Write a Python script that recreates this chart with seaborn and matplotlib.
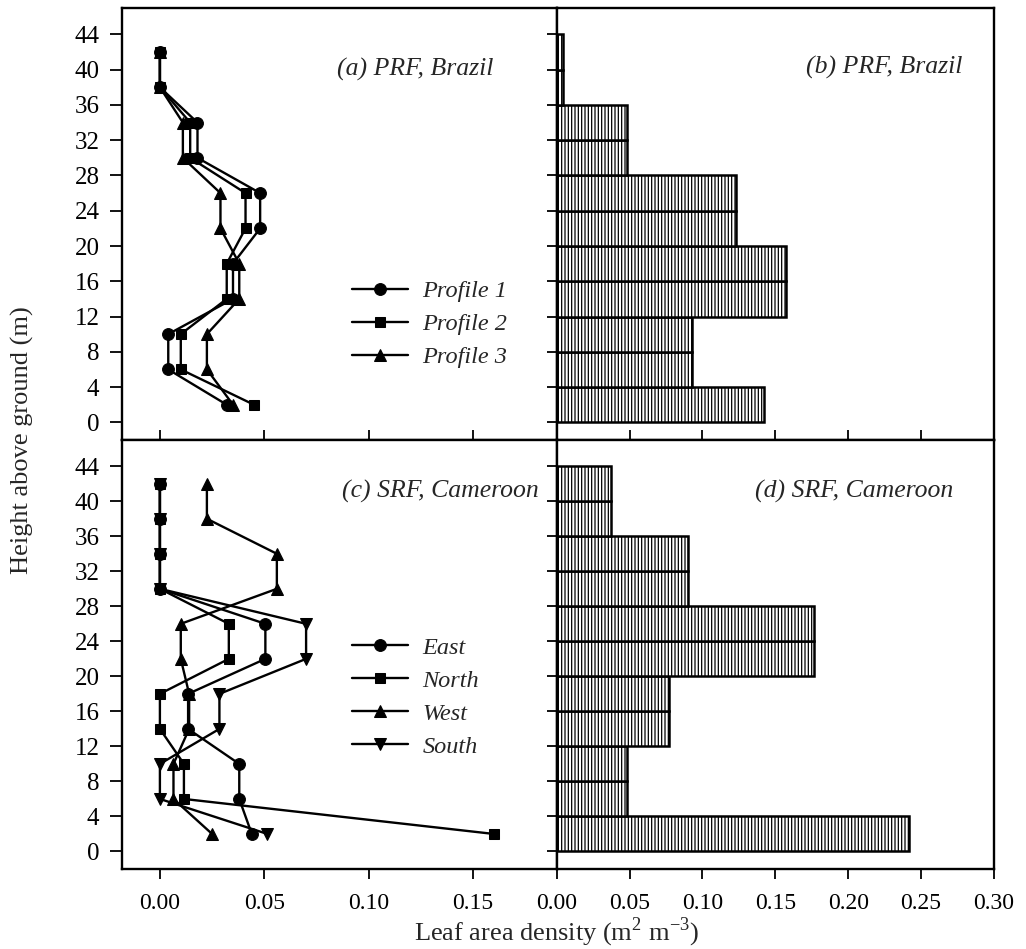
import numpy as np
import matplotlib
matplotlib.use("Agg")
import matplotlib.pyplot as plt
import seaborn as sns

# ---- data -------------------------------------------------------------
heights = [42, 38, 34, 30, 26, 22, 18, 14, 10, 6, 2]

# (a) PRF, Brazil : leaf area density profiles
prf_profile1 = [0.000, 0.000, 0.018, 0.018, 0.048, 0.048, 0.035, 0.035, 0.004, 0.004, 0.032]
prf_profile2 = [0.000, 0.000, 0.0145, 0.0145, 0.041, 0.041, 0.032, 0.032, 0.010, 0.010, 0.045]
prf_profile3 = [0.000, 0.000, 0.011, 0.011, 0.029, 0.029, 0.038, 0.038, 0.0225, 0.0225, 0.035]

# (c) SRF, Cameroon : leaf area density by direction
srf_east = [0.000, 0.000, 0.000, 0.000, 0.0505, 0.0505, 0.0135, 0.0135, 0.038, 0.038, 0.044]
srf_north = [0.000, 0.000, 0.000, 0.000, 0.033, 0.033, 0.000, 0.000, 0.0115, 0.0115, 0.160]
srf_west = [0.0225, 0.0225, 0.056, 0.056, 0.010, 0.010, 0.014, 0.014, 0.0065, 0.0065, 0.025]
srf_south = [0.000, 0.000, 0.000, 0.000, 0.070, 0.070, 0.0285, 0.0285, 0.000, 0.000, 0.0515]

# (b), (d) mean leaf area density in 4 m layers, from 0-4 m up to 40-44 m
layer_edges = [0, 4, 8, 12, 16, 20, 24, 28, 32, 36, 40, 44]
prf_layers = [0.142, 0.093, 0.093, 0.157, 0.157, 0.123, 0.123, 0.048, 0.048, 0.004, 0.004]
srf_layers = [0.2415, 0.048, 0.048, 0.077, 0.077, 0.1765, 0.1765, 0.090, 0.090, 0.0375, 0.0375]

y_ticks = [0, 4, 8, 12, 16, 20, 24, 28, 32, 36, 40, 44]
left_xticks = [0.00, 0.05, 0.10, 0.15]
right_xticks = [0.00, 0.05, 0.10, 0.15, 0.20, 0.25, 0.30]

# ---- style ------------------------------------------------------------
sns.set_theme(style="white")
plt.rcParams["font.family"] = ["Liberation Serif", "DejaVu Serif"]
plt.rcParams["mathtext.fontset"] = "custom"
plt.rcParams["mathtext.rm"] = "Liberation Serif"
plt.rcParams["hatch.linewidth"] = 0.9
plt.rcParams["axes.linewidth"] = 1.7
plt.rcParams["xtick.major.width"] = 1.3
plt.rcParams["ytick.major.width"] = 1.3

fig = plt.figure(figsize=(10.26, 9.49), dpi=100)
ax_a = fig.add_axes([0.1186, 0.5364, 0.4240, 0.4552])
ax_b = fig.add_axes([0.5426, 0.5364, 0.4262, 0.4552])
ax_c = fig.add_axes([0.1186, 0.0843, 0.4240, 0.4521])
ax_d = fig.add_axes([0.5426, 0.0843, 0.4262, 0.4521])

XTICK_FS = 17
YTICK_FS = 18
LABEL_FS = 19
ITALIC_FS = 17.5

line_kw = dict(color="black", linewidth=1.7, sort=False, estimator=None,
               markeredgecolor="black", markerfacecolor="black")


def profile(ax, values, marker, size, label):
    sns.lineplot(x=values, y=heights, marker=marker, markersize=size,
                 label=label, ax=ax, **line_kw)


profile(ax_a, prf_profile1, "o", 8.5, "Profile 1")
profile(ax_a, prf_profile2, "s", 7.5, "Profile 2")
profile(ax_a, prf_profile3, "^", 8.5, "Profile 3")

profile(ax_c, srf_east, "o", 8.5, "East")
profile(ax_c, srf_north, "s", 7.5, "North")
profile(ax_c, srf_west, "^", 8.5, "West")
profile(ax_c, srf_south, "v", 8.5, "South")

layer_mid = [(a + b) / 2 for a, b in zip(layer_edges[:-1], layer_edges[1:])]
bar_kw = dict(bins=layer_edges, color="white", edgecolor="black", linewidth=1.8,
              hatch="|||||", alpha=1.0, fill=True)
sns.histplot(y=layer_mid, weights=prf_layers, ax=ax_b, **bar_kw)
sns.histplot(y=layer_mid, weights=srf_layers, ax=ax_d, **bar_kw)

# ---- axes -------------------------------------------------------------
for ax in (ax_a, ax_c):
    ax.set_xlim(-0.0183, 0.19)
    ax.set_xticks(left_xticks)
for ax in (ax_b, ax_d):
    ax.set_xlim(0.0, 0.30)
    ax.set_xticks(right_xticks)

for ax in (ax_a, ax_b, ax_c, ax_d):
    ax.set_ylim(-2.0, 47.0)
    ax.set_yticks(y_ticks)
    ax.set_xlabel("")
    ax.set_ylabel("")
    for s in ax.spines.values():
        s.set_visible(True)
        s.set_color("black")
    ax.tick_params(axis="x", which="major", length=7, color="black",
                   labelsize=XTICK_FS, labelcolor="black", pad=10)
    ax.tick_params(axis="y", which="major", length=9, color="black",
                   labelsize=YTICK_FS, labelcolor="black", pad=7)
    ax.grid(False)

# left panels: labelled height axis
for ax in (ax_a, ax_c):
    ax.tick_params(axis="y", direction="out", left=True, right=False, labelleft=True)
    ax.set_yticklabels([str(v) for v in y_ticks])

# right panels: unlabelled height ticks
for ax in (ax_b, ax_d):
    ax.tick_params(axis="y", direction="out", left=True, right=False,
                   labelleft=False, length=7)

# upper panels: inward bottom ticks, no labels
for ax in (ax_a, ax_b):
    ax.tick_params(axis="x", direction="in", bottom=True, top=False, labelbottom=False)

# lower panels: labelled density axis
for ax in (ax_c, ax_d):
    ax.tick_params(axis="x", direction="out", bottom=True, top=False, labelbottom=True)
    ax.set_xticklabels([f"{v:.2f}" for v in ax.get_xticks()])

# ---- panel titles -----------------------------------------------------
title_kw = dict(fontsize=18.5, style="italic", ha="left", va="center")
ax_a.text(0.494, 0.857, "(a) PRF, Brazil", transform=ax_a.transAxes, **title_kw)
ax_b.text(0.570, 0.862, "(b) PRF, Brazil", transform=ax_b.transAxes, **title_kw)
ax_c.text(0.5057, 0.881, "(c) SRF, Cameroon", transform=ax_c.transAxes, **title_kw)
ax_d.text(0.4535, 0.880, "(d) SRF, Cameroon", transform=ax_d.transAxes, **title_kw)

# ---- legends ----------------------------------------------------------
leg_kw = dict(loc="center left", frameon=False, borderpad=0, borderaxespad=0,
              handlelength=2.3, handletextpad=0.6, labelspacing=0.45,
              prop={"style": "italic", "size": ITALIC_FS})
ax_a.legend(bbox_to_anchor=(0.529, 0.2676), **leg_kw)
ax_c.legend(bbox_to_anchor=(0.529, 0.4004), **leg_kw)

# ---- shared axis labels ----------------------------------------------
fig.text(0.5426, 0.0095, r"Leaf area density (m$^2$ m$^{-3}$)", ha="center",
         va="baseline", fontsize=LABEL_FS)
fig.text(0.022, 0.536, "Height above ground (m)", rotation=90, ha="center",
         va="center", fontsize=LABEL_FS)

fig.savefig("out.png", dpi=100)
